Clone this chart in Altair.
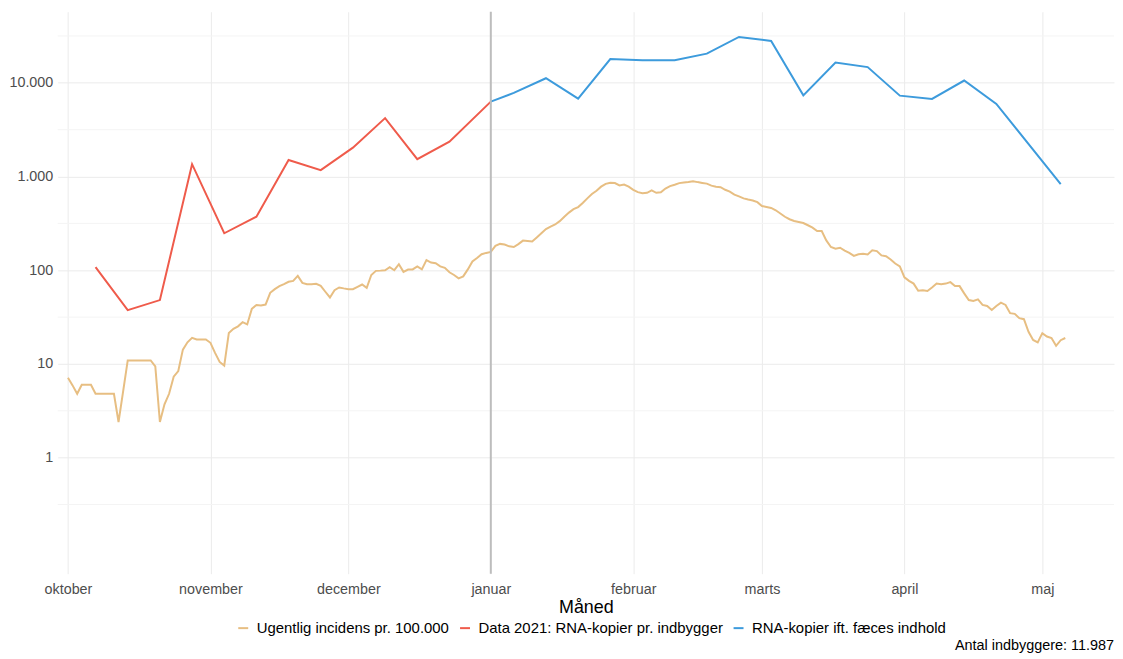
import altair as alt
import pandas as pd

# ---- data -------------------------------------------------------------
inc_start = "2020-10-01"
inc_values = [
    7.1, 5.9, 4.8, 6.0, 6.0, 6.0, 4.8, 4.8, 4.8, 4.8,
    4.8, 2.4, 5.1, 10.9, 10.9, 10.9, 10.9, 10.9, 10.9, 9.4,
    2.4, 3.7, 4.8, 7.3, 8.4, 14.2, 17.0, 19.0, 18.2, 18.2,
    18.2, 16.8, 13.1, 10.5, 9.6, 21.4, 23.7, 25.2, 27.9, 26.4,
    38.7, 42.5, 42.0, 43.0, 57.4, 62.8, 67.6, 71.0, 75.2, 77.0,
    87.0, 73.3, 71.0, 71.0, 71.5, 68.1, 58.9, 51.2, 61.2, 65.4,
    64.0, 62.8, 62.8, 66.5, 70.4, 64.9, 89.0, 98.4, 99.0, 100.0,
    108, 100, 116, 96, 101.6, 102, 110, 102, 128, 120.7,
    118.7, 110, 106, 95, 89, 82, 86, 102, 124, 135,
    148, 153, 157, 182, 191, 188, 180, 177, 190, 207,
    205, 203, 224, 248, 275, 292, 308, 334, 372, 412,
    448, 472, 522, 585, 650, 705, 780, 835, 860, 852,
    805, 822, 780, 721, 681, 665, 670, 710, 670, 678,
    745, 790, 818, 850, 865, 875, 892, 872, 855, 840,
    800, 778, 770, 722, 690, 640, 615, 585, 569, 555,
    533, 485, 473, 462, 436, 403, 372, 350, 335, 327,
    319, 302, 285, 262, 262, 208, 177, 170, 174, 162,
    153, 142, 148, 150, 147, 163, 160, 144, 141, 130,
    118, 110, 84, 77, 72, 60.4, 61, 60, 65.5, 72,
    71, 72, 74.6, 67.7, 67.7, 56.6, 48.1, 46.9, 48.8, 42.6,
    41.5, 37.7, 41.5, 45.1, 42.6, 34.8, 34.2, 30.8, 30.0, 22.0,
    18.0, 17.0, 21.3, 19.6, 18.9, 15.6, 17.9, 18.9,
]

rna_dates = ["2020-10-07", "2020-10-14", "2020-10-21", "2020-10-28", "2020-11-04",
             "2020-11-11", "2020-11-18", "2020-11-25", "2020-12-02", "2020-12-09",
             "2020-12-16", "2020-12-23", "2021-01-01"]
rna_values = [108, 37.5, 48, 1355, 248, 373, 1503, 1170, 2032, 4200, 1531, 2357, 6300]

faeces_dates = ["2021-01-01", "2021-01-06", "2021-01-13", "2021-01-20", "2021-01-27",
                "2021-02-03", "2021-02-10", "2021-02-17", "2021-02-24", "2021-03-03",
                "2021-03-10", "2021-03-17", "2021-03-24", "2021-03-31", "2021-04-07",
                "2021-04-14", "2021-04-21", "2021-05-05"]
faeces_values = [6300, 7800, 11200, 6780, 17960, 17400, 17400, 20500, 30900, 28000,
                 7350, 16450, 14720, 7300, 6730, 10580, 5960, 830]

series_names = ["Ugentlig incidens pr. 100.000",
                "Data 2021: RNA-kopier pr. indbygger",
                "RNA-kopier ift. fæces indhold"]
series_colors = ["#E7BE82", "#EF5B4B", "#3D9BDC"]

month_ticks = ["2020-10-01", "2020-11-01", "2020-12-01", "2021-01-01",
               "2021-02-01", "2021-03-01", "2021-04-01", "2021-05-01"]
month_names_da = ["januar", "februar", "marts", "april", "maj", "juni", "juli",
                  "august", "september", "oktober", "november", "december"]
y_major = [1, 10, 100, 1000, 10000]
y_major_labels = ["1", "10", "100", "1.000", "10.000"]
y_minor = [0.316, 3.16, 31.6, 316, 3162, 31623]
vline_date = ["2021-01-01"]
caption = "Antal indbyggere: 11.987"

# ---- frames -----------------------------------------------------------
inc_dates = [d.strftime("%Y-%m-%d") for d in pd.date_range(inc_start, periods=len(inc_values), freq="D")]
df = pd.concat([
    pd.DataFrame({"date": inc_dates, "value": inc_values, "series": series_names[0]}),
    pd.DataFrame({"date": rna_dates, "value": rna_values, "series": series_names[1]}),
    pd.DataFrame({"date": faeces_dates, "value": faeces_values, "series": series_names[2]}),
], ignore_index=True)

def ms(s, days=0.0):
    return int((pd.Timestamp(s) + pd.Timedelta(days=days)).value // 10**6)

W, H = 1062, 565
x_scale = alt.Scale(type="utc", domain=[ms("2020-10-01", -2.23), ms("2020-10-01", 227.6)])
y_scale = alt.Scale(type="log", domain=[0.0577, 57400])

FONT = "Liberation Sans"
month_expr = "[" + ",".join("'%s'" % m for m in month_names_da) + "][utcmonth(datum.value)]"
ylab_expr = " : ".join("datum.value == %s ? '%s'" % (v, l) for v, l in zip(y_major, y_major_labels)) + " : ''"

x_axis = alt.Axis(values=[ms(m) for m in month_ticks], labelExpr=month_expr, title="Måned",
                  grid=True, gridColor="#EBEBEB", gridWidth=1, domain=False, ticks=False,
                  labelFontSize=14.4, labelColor="#4D4D4D", labelPadding=9, labelFont=FONT,
                  titleFontSize=18, titleFontWeight="normal", titleColor="#000000",
                  titlePadding=3, titleFont=FONT, labelFlush=False)
y_axis = alt.Axis(values=y_major, labelExpr=ylab_expr,
                  title=None, grid=True, gridColor="#EBEBEB", gridWidth=1, domain=False,
                  ticks=False, labelFontSize=14.4, labelColor="#4D4D4D", labelPadding=5,
                  labelFont=FONT)

minor = alt.Chart(pd.DataFrame({"v": y_minor})).mark_rule(color="#F4F4F4", strokeWidth=1).encode(
    y=alt.Y("v:Q", scale=y_scale, axis=y_axis)
)

lines = alt.Chart(df).mark_line(strokeWidth=2, clip=True).encode(
    x=alt.X("date:T", scale=x_scale, axis=x_axis),
    y=alt.Y("value:Q", scale=y_scale, axis=y_axis),
    color=alt.Color("series:N", scale=alt.Scale(domain=series_names, range=series_colors),
                    sort=series_names,
                    legend=alt.Legend(orient="none", direction="horizontal", title=None,
                                      legendX=179, legendY=612, symbolType="stroke",
                                      symbolStrokeWidth=2, symbolSize=100, labelFontSize=15,
                                      labelFont=FONT, labelColor="#000000", labelOffset=6,
                                      labelLimit=0, columnPadding=6, padding=0)),
    detail="series:N",
)

vline = alt.Chart(pd.DataFrame({"d": vline_date})).mark_rule(color="#BDBDBD", strokeWidth=2).encode(
    x=alt.X("d:T", scale=x_scale, axis=x_axis)
)

cap = alt.Chart(pd.DataFrame({"t": [caption]})).mark_text(
    align="right", baseline="middle", fontSize=14.5, font=FONT, color="#000000"
).encode(x=alt.value(W), y=alt.value(638), text="t:N")

chart = alt.layer(minor, lines, vline, cap).properties(
    width=W, height=H,
    padding={"left": 50, "top": 2, "right": 1, "bottom": 78},
    autosize=alt.AutoSizeParams(type="none"),
    view=alt.ViewBackground(stroke="transparent", strokeWidth=0),
).configure_view(stroke="transparent", strokeWidth=0).configure(font=FONT)

chart.save("out.html", embed_options={"renderer": "svg", "actions": False})
